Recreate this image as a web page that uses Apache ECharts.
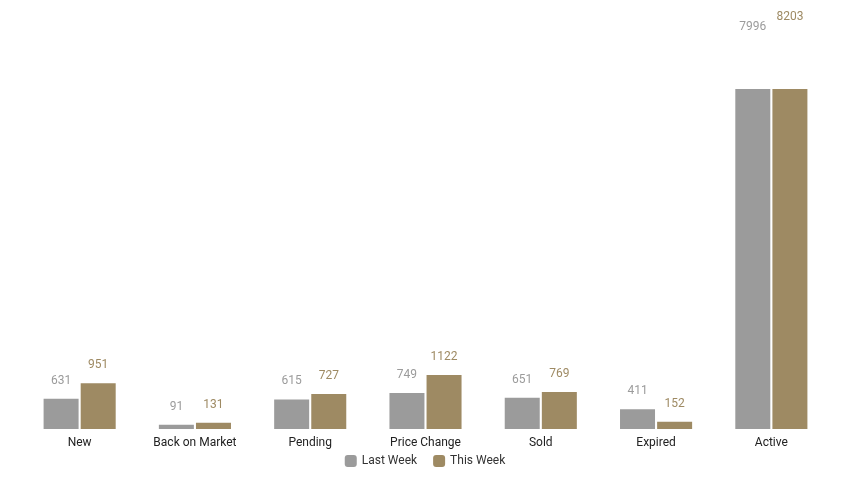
<!DOCTYPE html>
<html><head><meta charset="utf-8">
<script src="https://cdn.jsdelivr.net/npm/echarts@6/dist/echarts.min.js"></script>
<style>html,body{margin:0;padding:0}#c{width:850px;height:478px}</style></head>
<body><div id="c"></div>
<script>
var categories=['New','Back on Market','Pending','Price Change','Sold','Expired','Active'];
var lastWeek=[631,91,615,749,651,411,7996];
var thisWeek=[951,131,727,1122,769,152,8203];
var gray='#9b9b9b', brown='#9e8a63';
var c=echarts.init(document.getElementById('c'));
var yMax=7080;
function xa(show){return {type:'category',data:categories,show:show,axisLine:{show:false},axisTick:{show:false},
  axisLabel:{color:'#222',fontSize:12,fontFamily:'Roboto',margin:8}};}
function ya(){return {type:'value',min:0,max:yMax,show:false,splitLine:{show:false}};}
function lbl(col){return {show:true,position:'top',distance:12,color:col,fontSize:12,fontFamily:'Roboto'};}
c.setOption({
  animation:false,
  grid:{left:22,right:21,top:89,bottom:49},
  legend:{bottom:6,itemWidth:12,itemHeight:12,itemGap:16,data:['Last Week','This Week'],
    textStyle:{color:'#333',fontSize:12,fontFamily:'Roboto'}},
  xAxis:[xa(true),xa(false)],
  yAxis:[ya(),ya()],
  series:[
    {name:'Last Week',type:'bar',data:lastWeek,barWidth:35,barGap:'6%',itemStyle:{color:gray},clip:true},
    {name:'This Week',type:'bar',data:thisWeek,barWidth:35,barGap:'6%',itemStyle:{color:brown},clip:true},
    {name:'lw',type:'bar',xAxisIndex:1,yAxisIndex:1,data:lastWeek,barWidth:35,barGap:'6%',clip:false,silent:true,
      itemStyle:{color:'rgba(0,0,0,0)'},label:lbl(gray)},
    {name:'tw',type:'bar',xAxisIndex:1,yAxisIndex:1,data:thisWeek,barWidth:35,barGap:'6%',clip:false,silent:true,
      itemStyle:{color:'rgba(0,0,0,0)'},label:lbl(brown)}
  ]
});
</script></body></html>
